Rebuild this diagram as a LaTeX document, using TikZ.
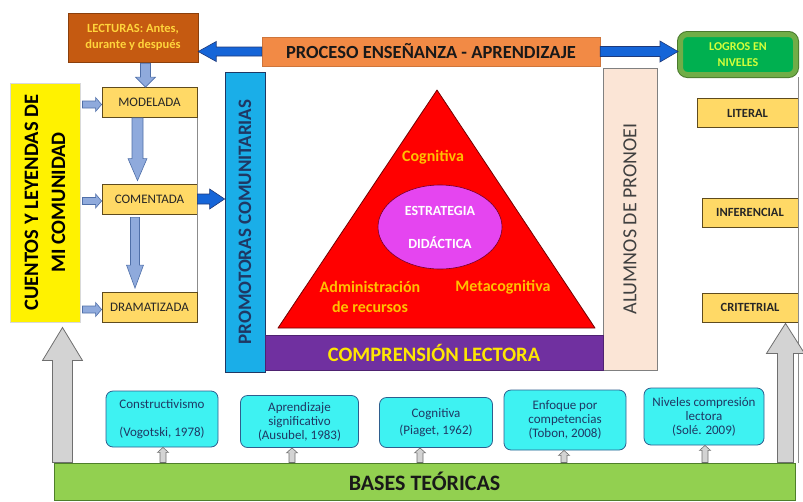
\documentclass[tikz,border=0pt]{standalone}
\usepackage{fontspec}
\setmainfont{Carlito}
\usepackage{tikz}
\usetikzlibrary{calc,shapes.geometric}

\definecolor{lectbrown}{HTML}{C55A11}
\definecolor{lectyellow}{HTML}{FFD43B}
\definecolor{procorange}{HTML}{F28A45}
\definecolor{boxgold}{HTML}{FFD966}
\definecolor{boxedge}{HTML}{5E4B1E}
\definecolor{arrblue}{HTML}{1565D8}
\definecolor{arrblueedge}{HTML}{1F3A7A}
\definecolor{paleblue}{HTML}{8FAADC}
\definecolor{paleedge}{HTML}{4F6FA8}
\definecolor{promblue}{HTML}{1AAEE8}
\definecolor{navy}{HTML}{1F3864}
\definecolor{peach}{HTML}{FBE5D6}
\definecolor{purp}{HTML}{7030A0}
\definecolor{magentafill}{HTML}{E545F0}
\definecolor{gold}{HTML}{FFC000}
\definecolor{olive}{HTML}{70AD47}
\definecolor{oliveedge}{HTML}{4A7A2E}
\definecolor{logrogreen}{HTML}{00B050}
\definecolor{lime}{HTML}{D4FF3A}
\definecolor{cyanbox}{HTML}{3EF2F2}
\definecolor{cyanedge}{HTML}{2E5E8E}
\definecolor{barg}{HTML}{92D050}
\definecolor{baredge}{HTML}{4E7F2A}
\definecolor{greyarr}{HTML}{D3D3D3}
\definecolor{greyedge}{HTML}{6F6F6F}

\tikzset{
  shaftw/.store in=\shaftw, headw/.store in=\headw, headl/.store in=\headl,
  shaftw=5pt, headw=10pt, headl=15pt,
  blockarrow/.style={line join=miter, to path={
      ($(\tikztostart)!\shaftw!90:(\tikztotarget)$)
      -- ($($(\tikztotarget)!\headl!(\tikztostart)$)!\shaftw!90:(\tikztotarget)$)
      -- ($($(\tikztotarget)!\headl!(\tikztostart)$)!\headw!90:(\tikztotarget)$)
      -- (\tikztotarget)
      -- ($($(\tikztotarget)!\headl!(\tikztostart)$)!\headw!-90:(\tikztotarget)$)
      -- ($($(\tikztotarget)!\headl!(\tikztostart)$)!\shaftw!-90:(\tikztotarget)$)
      -- ($(\tikztostart)!\shaftw!-90:(\tikztotarget)$) -- cycle}},
  bluearrow/.style={blockarrow, draw=arrblueedge, fill=arrblue, line width=0.6pt},
  palearrow/.style={blockarrow, draw=paleedge, fill=paleblue, line width=0.6pt},
  greyarrow/.style={blockarrow, draw=greyedge, fill=greyarr, line width=0.8pt},
  frameline/.style={draw=black!45, line width=0.6pt},
  stepbox/.style={draw=boxedge, fill=boxgold, line width=0.8pt, inner sep=0pt,
    minimum width=95pt, minimum height=30pt, text=black!85,
    font={\fontsize{13}{15}\selectfont}},
  levelbox/.style={draw=boxedge, fill=boxgold, line width=0.8pt, inner sep=0pt,
    minimum width=96pt, minimum height=29pt, text=black!85,
    font={\fontsize{12.5}{15}\selectfont\bfseries}},
  basebox/.style={draw=cyanedge, fill=cyanbox, rounded corners=7pt, line width=0.8pt,
    inner sep=0pt, align=center, text=navy, font={\fontsize{13}{14}\selectfont}},
  trilabel/.style={text=gold, align=center, font={\fontsize{16}{20}\selectfont\bfseries}},
}

\begin{document}
\begin{tikzpicture}[x=1pt,y=-1pt]
  \useasboundingbox (0,0) rectangle (803,501);

  \node[draw=lectbrown!70!black, fill=lectbrown, text=lectyellow, minimum width=130pt,
    minimum height=49pt, inner sep=0pt, align=center,
    font={\fontsize{12.5}{16.5}\selectfont\bfseries}] (lect) at (133,37.5)
    {LECTURAS: Antes,\\durante y después};
  \node[draw=procorange!85!black, line width=0.4pt, fill=procorange, text=black!90,
    minimum width=338pt, minimum height=29pt, inner sep=0pt,
    font={\fontsize{18.5}{22}\selectfont\bfseries}] (proc) at (431,51.5)
    {PROCESO ENSEÑANZA - APRENDIZAJE};
  \node[preaction={draw=oliveedge, line width=7pt, rounded corners=7pt},
    draw=olive, line width=5pt, fill=logrogreen, rounded corners=7pt,
    minimum width=115pt, minimum height=40pt, inner sep=0pt, align=center, text=lime,
    font={\fontsize{12}{16}\selectfont\bfseries}] (logros) at (738,54.5)
    {LOGROS EN\\NIVELES};

  \node[stepbox] (mod) at (149.5,102.5) {MODELADA};
  \node[stepbox] (com) at (149.5,199) {COMENTADA};
  \node[stepbox] (dram) at (149.5,307.5) {DRAMATIZADA};

  \node[rotate=90, draw=black!15, line width=1pt, fill=yellow, minimum width=239pt,
    minimum height=70pt, inner sep=0pt, align=center,
    font={\fontsize{20.5}{27}\selectfont\bfseries}] (cuentos) at (45,202.5)
    {CUENTOS Y LEYENDAS DE\\MI COMUNIDAD};
  \node[rotate=90, draw=navy, line width=0.8pt, fill=promblue, text=navy,
    minimum width=300pt, minimum height=40pt, inner sep=0pt,
    font={\fontsize{19}{22}\selectfont\bfseries}] (prom) at (245,222)
    {PROMOTORAS COMUNITARIAS};
  \node[rotate=90, draw=black!50, line width=0.8pt, fill=peach, text=black!75,
    minimum width=302pt, minimum height=54pt, inner sep=0pt,
    font={\fontsize{20}{24}\selectfont}] (alum) at (630,219)
    {ALUMNOS DE PRONOEI};
  \node[draw=purp!70!black, line width=0.8pt, fill=purp, text=yellow!90!orange,
    minimum width=338pt, minimum height=35pt, inner sep=0pt,
    font={\fontsize{20.5}{24}\selectfont\bfseries}] (comp) at (434,352.5)
    {COMPRENSIÓN LECTORA};

  \draw[draw=red!45!black, line width=0.8pt, fill=red, line join=round]
    (437,90) -- (278,328) -- (595,328) -- cycle;
  \node[ellipse, draw=purple!60!black, line width=0.6pt, fill=magentafill, text=white,
    minimum width=124pt, minimum height=84pt, inner sep=0pt, align=center,
    font={\fontsize{14}{33}\selectfont\bfseries}] (estr) at (440,227)
    {ESTRATEGIA\\DIDÁCTICA};
  \node[trilabel] (cog) at (433,157) {Cognitiva};
  \node[trilabel] (admin) at (370,297) {Administración\\de recursos};
  \node[trilabel] (meta) at (503,287) {Metacognitiva};

  \node[levelbox, minimum width=101pt] (lit) at (747.5,113) {LITERAL};
  \node[levelbox] (inf) at (750,212.5) {INFERENCIAL};
  \node[levelbox] (crit) at (750,307.5) {CRITETRIAL};

  \node[draw=baredge, line width=1pt, fill=barg, minimum width=741pt, minimum height=37pt,
    inner sep=0pt, text=black!90, font={\fontsize{22}{26}\selectfont\bfseries}]
    (bar) at (424.5,481.5) {BASES TEÓRICAS};

  \node[basebox, minimum width=112pt, minimum height=56pt] (b1) at (162,419)
    {Constructivismo\\[14pt](Vogotski, 1978)};
  \node[basebox, minimum width=118pt, minimum height=52pt] (b2) at (299.5,421.5)
    {Aprendizaje\\significativo\\(Ausubel, 1983)};
  \node[basebox, minimum width=113pt, minimum height=50pt] (b3) at (436,422.5)
    {Cognitiva\\[3pt](Piaget, 1962)};
  \node[basebox, minimum width=122pt, minimum height=60pt] (b4) at (565,420)
    {Enfoque por\\competencias\\(Tobon, 2008)};
  \node[basebox, minimum width=120pt, minimum height=57pt] (b5) at (704,416.5)
    {Niveles compresión\\lectora\\(Solé. 2009)};

  \draw[frameline] (mod.south east) -- (dram.north east);
  \draw[frameline] (logros.south -| lit.east) -- (bar.north -| lit.east);

  \draw[bluearrow, shaftw=4.5pt, headw=10pt, headl=18pt] (proc.west) to (proc.west -| lect.east);
  \draw[bluearrow, shaftw=5pt, headw=10.5pt, headl=18pt] (proc.east) to (proc.east -| logros.west);
  \draw[bluearrow, shaftw=5pt, headw=10pt, headl=15pt] (com.east) to (com.east -| prom.north);

  \draw[palearrow, shaftw=5pt, headw=10pt, headl=10pt]
    ($(mod.north |- lect.south)+(-4,1)$) to ($(mod.north)+(-4,0)$);
  \draw[palearrow, shaftw=5.5pt, headw=9.5pt, headl=22pt]
    ($(mod.south)+(-12,0)$) to ($(com.north)+(-12,-3)$);
  \draw[palearrow, shaftw=4.5pt, headw=8.5pt, headl=23pt]
    ($(com.south)+(-14.5,3)$) to ($(dram.north)+(-14.5,-4)$);
  \foreach \b in {mod,com,dram}
    \draw[palearrow, shaftw=3.5pt, headw=7pt, headl=6pt]
      ($(cuentos.south |- \b.west)+(2,2)$) to ($(\b.west)+(0,2)$);

  \foreach \b/\dx in {b1/1,b2/-7.5,b3/-16,b4/-1,b5/1}
    \draw[greyarrow, line width=0.6pt, shaftw=3pt, headw=5.5pt, headl=5pt]
      ($(\b.south |- bar.north)+(\dx,0)$) to ($(\b.south)+(\dx,0)$);

  \draw[greyarrow, shaftw=10pt, headw=20pt, headl=33pt]
    ($(bar.north west)+(9,0)$) to ($(bar.north west |- cuentos.west)+(9,5)$);
  \draw[greyarrow, shaftw=8pt, headw=19pt, headl=30pt]
    ($(bar.north east)+(-10,0)$) to ($(bar.north east |- crit.south)+(-10,1)$);
\end{tikzpicture}
\end{document}
